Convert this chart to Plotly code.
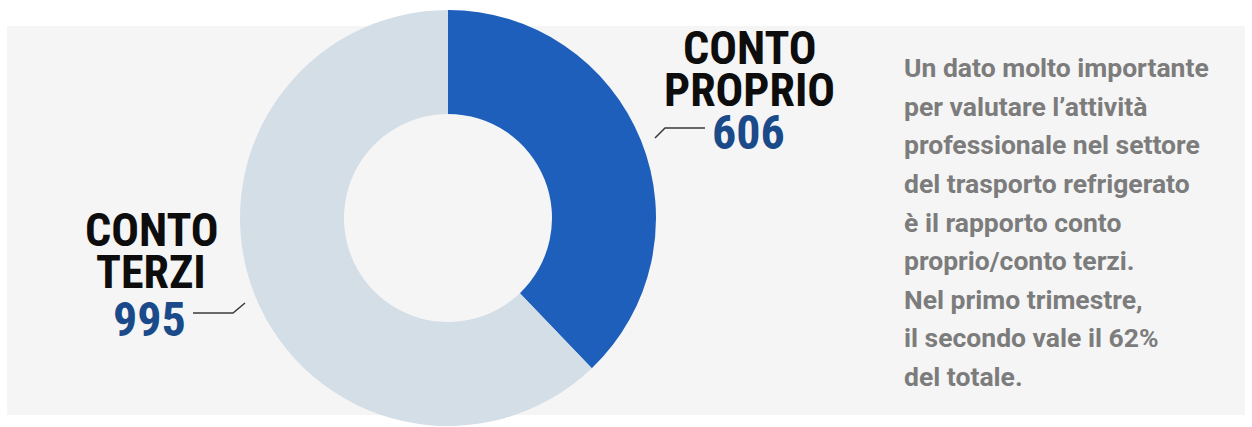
import plotly.graph_objects as go

W, H = 1252, 427

categories = ["CONTO PROPRIO", "CONTO TERZI"]
values = [606, 995]
slice_colors = ["#1d5fbb", "#d3dee7"]

label_lines = {
    "CONTO PROPRIO": ["CONTO", "PROPRIO"],
    "CONTO TERZI": ["CONTO", "TERZI"],
}

paragraph = [
    "Un dato molto importante",
    "per valutare l\u2019attività",
    "professionale nel settore",
    "del trasporto refrigerato",
    "è il rapporto conto",
    "proprio/conto terzi.",
    "Nel primo trimestre,",
    "il secondo vale il 62%",
    "del totale.",
]

FONT = "Roboto Condensed, Liberation Sans Narrow, Arial Narrow, DejaVu Sans Condensed, Roboto, sans-serif"
PFONT = "Roboto, Arial, sans-serif"

def px(x):
    return x / W

def py(y):
    return 1 - y / H

cx, cy, r = 448, 218, 208

fig = go.Figure()
fig.add_trace(go.Pie(
    labels=categories,
    values=values,
    hole=0.5,
    sort=False,
    direction="clockwise",
    rotation=0,
    textinfo="none",
    hoverinfo="label+value",
    marker=dict(colors=slice_colors, line=dict(width=0)),
    domain=dict(x=[px(cx - r), px(cx + r)], y=[py(cy + r), py(cy - r)]),
    showlegend=False,
))

shapes = [
    dict(type="rect", xref="paper", yref="paper",
         x0=px(7), x1=px(1245), y0=py(415), y1=py(26),
         fillcolor="#f5f5f5", line=dict(width=0), layer="below"),
    dict(type="path", xref="paper", yref="paper",
         path=f"M {px(655)} {py(138)} L {px(665)} {py(128)} L {px(705)} {py(128)}",
         line=dict(color="#3a3a3a", width=1.5)),
    dict(type="path", xref="paper", yref="paper",
         path=f"M {px(193)} {py(313)} L {px(233)} {py(313)} L {px(245)} {py(303)}",
         line=dict(color="#3a3a3a", width=1.5)),
]

annotations = []
def big(text, x, y, color, size=46):
    annotations.append(dict(
        text=f"<b>{text}</b>", x=px(x), y=py(y), xref="paper", yref="paper",
        xanchor="center", yanchor="middle", showarrow=False,
        font=dict(family=FONT, size=size, color=color)))

big(label_lines["CONTO PROPRIO"][0], 750, 48, "#0d0d0d")
big(label_lines["CONTO PROPRIO"][1], 749, 90, "#0d0d0d")
big(str(values[0]), 748, 132, "#1a4a8a", 48)
big(label_lines["CONTO TERZI"][0], 152, 230, "#0d0d0d")
big(label_lines["CONTO TERZI"][1], 151, 272, "#0d0d0d")
big(str(values[1]), 149, 319, "#1a4a8a", 48)

for i, line in enumerate(paragraph):
    annotations.append(dict(
        text=f"<b>{line}</b>", x=px(902), y=py(68 + i * 38.5),
        xref="paper", yref="paper", xanchor="left", yanchor="middle",
        showarrow=False, font=dict(family=PFONT, size=26.5, color="#7c7c7c")))

fig.update_layout(
    width=W, height=H,
    margin=dict(l=0, r=0, t=0, b=0),
    paper_bgcolor="#ffffff",
    plot_bgcolor="#ffffff",
    shapes=shapes,
    annotations=annotations,
)

fig.write_html("out.html")
